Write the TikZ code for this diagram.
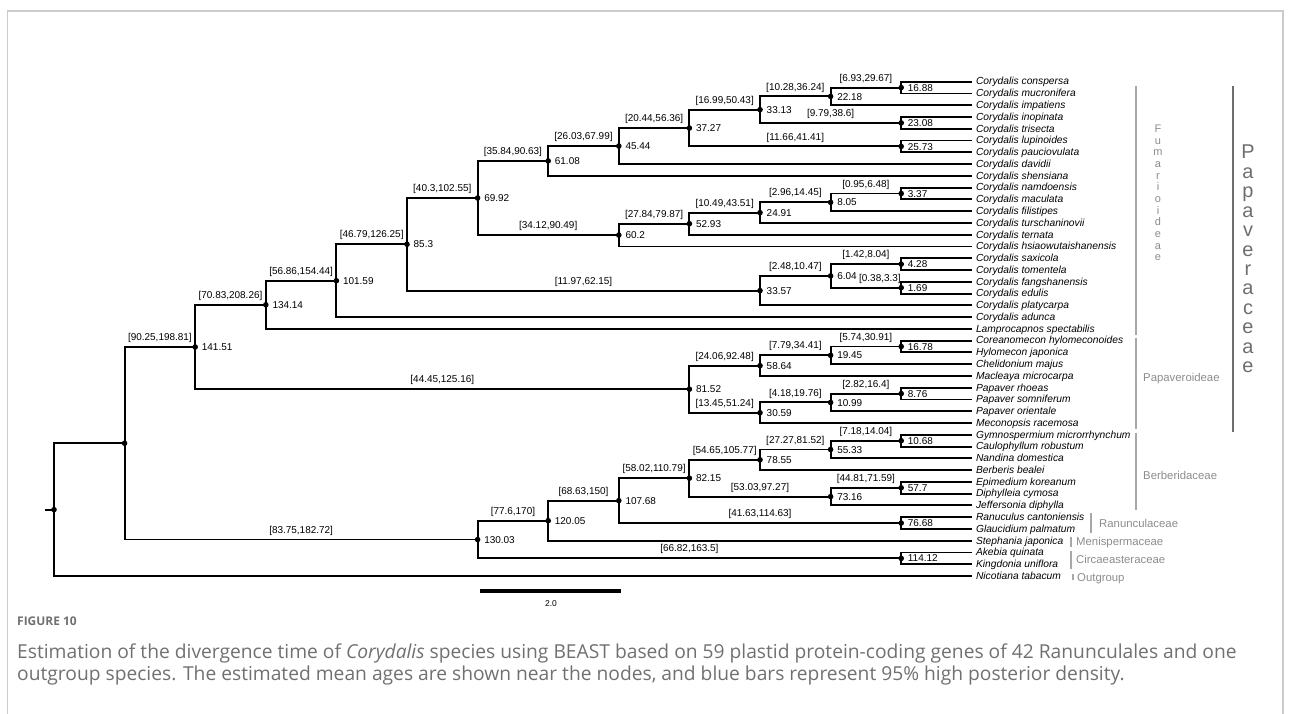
\documentclass[tikz,border=0pt]{standalone}
\usepackage{fontspec}
\setmainfont{Liberation Sans}
\newfontfamily\capfont{Open Sans}
\usetikzlibrary{calc}
\definecolor{framegray}{HTML}{CCCCCC}
\definecolor{brgray}{HTML}{A8A8A8}
\definecolor{labgray}{HTML}{8C8C8C}
\definecolor{bargray}{HTML}{6E6E6E}
\definecolor{capgray}{HTML}{707070}
\newcommand\brch[3]{\draw[br] (#1) |- (#2); \node[hpd] at ($(#1 |- #2)!.5!(#2)$) {#3};}
\newcommand\tbr[2]{\draw[br] (#1) |- (#2.west);}
\begin{document}
\begin{tikzpicture}[x=1bp,y=-1bp,
  br/.style={line width=1.9bp,line join=miter},
  hpd/.style={anchor=base,inner sep=0,yshift=6.4bp,font=\fontsize{10}{12}\selectfont},
  age/.style={anchor=base west,inner sep=0,xshift=6.5bp,yshift=-3.6bp,font=\fontsize{10}{12}\selectfont},
  tip/.style={anchor=west,inner xsep=4bp,inner ysep=0,text height=6.6bp,text depth=0bp,font=\fontsize{10.3}{12}\selectfont\itshape},
  grp/.style={text=labgray,font=\fontsize{11.4}{13}\selectfont,anchor=west,inner sep=0,text height=8bp,text depth=0bp},
  brk/.style={brgray,line width=1.3bp},
]
\useasboundingbox (0,0) rectangle (1293,714);
% frame
\draw[framegray,line width=1.3bp] (7.3,714) -- (7.3,11) -- (1283,11) -- (1283,714);

\begin{scope}[shift={(54,81.7)},x=70.6bp,y=-11.77bp]
% tips
\foreach \n [count=\i from 0] in {Corydalis conspersa,Corydalis mucronifera,Corydalis impatiens,Corydalis inopinata,Corydalis trisecta,Corydalis lupinoides,Corydalis pauciovulata,Corydalis davidii,Corydalis shensiana,Corydalis namdoensis,Corydalis maculata,Corydalis filistipes,Corydalis turschaninovii,Corydalis ternata,Corydalis hsiaowutaishanensis,Corydalis saxicola,Corydalis tomentela,Corydalis fangshanensis,Corydalis edulis,Corydalis platycarpa,Corydalis adunca,Lamprocapnos spectabilis,Coreanomecon hylomeconoides,Hylomecon japonica,Chelidonium majus,Macleaya microcarpa,Papaver rhoeas,Papaver somniferum,Papaver orientale,Meconopsis racemosa,Gymnospermium microrrhynchum,Caulophyllum robustum,Nandina domestica,Berberis bealei,Epimedium koreanum,Diphylleia cymosa,Jeffersonia diphylla,Ranuculus cantoniensis,Glaucidium palmatum,Stephania japonica,Akebia quinata,Kingdonia uniflora,Nicotiana tabacum}
  \node[tip] (t\i) at (13,\i) {\n};
% internal nodes
\coordinate (root) at (0,36.3595);
\coordinate (rstub) at (-0.1275,36.3595);
\coordinate (nA) at (1,30.719);
\coordinate (n14151) at (2,22.5396);
\coordinate (n13414) at (3,18.9541);
\coordinate (n10159) at (4,16.9082);
\coordinate (n853) at (5,13.8164);
\coordinate (n6992) at (6,9.8828);
\coordinate (n6108) at (7,6.7344);
\coordinate (n4544) at (8,5.4688);
\coordinate (n3727) at (9,3.9375);
\coordinate (n3313) at (10,2.375);
\coordinate (n2218) at (11,1.25);
\coordinate (n1688) at (12,0.5);
\coordinate (n2308) at (12,3.5);
\coordinate (n2573) at (12,5.5);
\coordinate (n602) at (8,13.0313);
\coordinate (n5293) at (9,12.0625);
\coordinate (n2491) at (10,11.125);
\coordinate (n805) at (11,10.25);
\coordinate (n337) at (12,9.5);
\coordinate (n3357) at (10,17.75);
\coordinate (n604) at (11,16.5);
\coordinate (n428) at (12,15.5);
\coordinate (n169) at (12,17.5);
\coordinate (n8152) at (9,26.125);
\coordinate (n5864) at (10,24.125);
\coordinate (n1945) at (11,23.25);
\coordinate (n1678) at (12,22.5);
\coordinate (n3059) at (10,28.125);
\coordinate (n1099) at (11,27.25);
\coordinate (n876) at (12,26.5);
\coordinate (n13003) at (6,38.8984);
\coordinate (n12005) at (7,37.2969);
\coordinate (n10768) at (8,35.5938);
\coordinate (n8215) at (9,33.6875);
\coordinate (n7855) at (10,32.125);
\coordinate (n5533) at (11,31.25);
\coordinate (n1068) at (12,30.5);
\coordinate (n7316) at (11,35.25);
\coordinate (n577) at (12,34.5);
\coordinate (n7668) at (12,37.5);
\coordinate (n11412) at (12,40.5);

% branches
\draw[br] (rstub) -- (root);
\draw[br] (root) |- (nA);
\tbr{root}{t42}
\brch{nA}{n14151}{[90.25,198.81]}
\brch{nA}{n13003}{[83.75,182.72]}
\brch{n14151}{n13414}{[70.83,208.26]}
\brch{n14151}{n8152}{[44.45,125.16]}
\brch{n13414}{n10159}{[56.86,154.44]}
\tbr{n13414}{t21}
\brch{n10159}{n853}{[46.79,126.25]}
\tbr{n10159}{t20}
\brch{n853}{n6992}{[40.3,102.55]}
\brch{n853}{n3357}{[11.97,62.15]}
\brch{n6992}{n6108}{[35.84,90.63]}
\brch{n6992}{n602}{[34.12,90.49]}
\brch{n6108}{n4544}{[26.03,67.99]}
\tbr{n6108}{t8}
\brch{n4544}{n3727}{[20.44,56.36]}
\tbr{n4544}{t7}
\brch{n3727}{n3313}{[16.99,50.43]}
\brch{n3727}{n2573}{[11.66,41.41]}
\brch{n3313}{n2218}{[10.28,36.24]}
\brch{n3313}{n2308}{[9.79,38.6]}
\brch{n2218}{n1688}{[6.93,29.67]}
\tbr{n2218}{t2}
\tbr{n1688}{t0}\tbr{n1688}{t1}
\tbr{n2308}{t3}\tbr{n2308}{t4}
\tbr{n2573}{t5}\tbr{n2573}{t6}
\brch{n602}{n5293}{[27.84,79.87]}
\tbr{n602}{t14}
\brch{n5293}{n2491}{[10.49,43.51]}
\tbr{n5293}{t13}
\brch{n2491}{n805}{[2.96,14.45]}
\tbr{n2491}{t12}
\brch{n805}{n337}{[0.95,6.48]}
\tbr{n805}{t11}
\tbr{n337}{t9}\tbr{n337}{t10}
\brch{n3357}{n604}{[2.48,10.47]}
\tbr{n3357}{t19}
\brch{n604}{n428}{[1.42,8.04]}
\draw[br] (n604) |- (n169);
\node[hpd,xshift=14bp] at ($(n604 |- n169)!.5!(n169)$) {[0.38,3.3]};
\tbr{n428}{t15}\tbr{n428}{t16}
\tbr{n169}{t17}\tbr{n169}{t18}
\brch{n8152}{n5864}{[24.06,92.48]}
\brch{n8152}{n3059}{[13.45,51.24]}
\brch{n5864}{n1945}{[7.79,34.41]}
\tbr{n5864}{t25}
\brch{n1945}{n1678}{[5.74,30.91]}
\tbr{n1945}{t24}
\tbr{n1678}{t22}\tbr{n1678}{t23}
\brch{n3059}{n1099}{[4.18,19.76]}
\tbr{n3059}{t29}
\brch{n1099}{n876}{[2.82,16.4]}
\tbr{n1099}{t28}
\tbr{n876}{t26}\tbr{n876}{t27}
\brch{n13003}{n12005}{[77.6,170]}
\brch{n13003}{n11412}{[66.82,163.5]}
\brch{n12005}{n10768}{[68.63,150]}
\tbr{n12005}{t39}
\brch{n10768}{n8215}{[58.02,110.79]}
\brch{n10768}{n7668}{[41.63,114.63]}
\brch{n8215}{n7855}{[54.65,105.77]}
\brch{n8215}{n7316}{[53.03,97.27]}
\brch{n7855}{n5533}{[27.27,81.52]}
\tbr{n7855}{t33}
\brch{n5533}{n1068}{[7.18,14.04]}
\tbr{n5533}{t32}
\tbr{n1068}{t30}\tbr{n1068}{t31}
\brch{n7316}{n577}{[44.81,71.59]}
\tbr{n7316}{t36}
\tbr{n577}{t34}\tbr{n577}{t35}
\tbr{n7668}{t37}\tbr{n7668}{t38}
\tbr{n11412}{t40}\tbr{n11412}{t41}

% dots
\foreach \n in {root,nA,n14151,n13414,n10159,n853,n6992,n6108,n4544,n3727,n3313,n2218,n1688,n2308,n2573,n602,n5293,n2491,n805,n337,n3357,n604,n428,n169,n8152,n5864,n1945,n1678,n3059,n1099,n876,n13003,n12005,n10768,n8215,n7855,n5533,n1068,n7316,n577,n7668,n11412}
  \fill (\n) circle (2.8bp);
% ages
\foreach \n/\a in {n14151/141.51,n13414/134.14,n10159/101.59,n853/85.3,n6992/69.92,n6108/61.08,n4544/45.44,n3727/37.27,n3313/33.13,n2218/22.18,n1688/16.88,n2308/23.08,n2573/25.73,n602/60.2,n5293/52.93,n2491/24.91,n805/8.05,n337/3.37,n3357/33.57,n604/6.04,n428/4.28,n169/1.69,n8152/81.52,n5864/58.64,n1945/19.45,n1678/16.78,n3059/30.59,n1099/10.99,n876/8.76,n13003/130.03,n12005/120.05,n10768/107.68,n8215/82.15,n7855/78.55,n5533/55.33,n1068/10.68,n7316/73.16,n577/57.7,n7668/76.68,n11412/114.12}
  \node[age] at (\n) {\a};
\end{scope}

% group brackets
\coordinate (bF1) at (1136,86);   \coordinate (bF2) at (1136,335);
\coordinate (bP1) at (1136,337.5);\coordinate (bP2) at (1136,429);
\coordinate (bB1) at (1136,433);  \coordinate (bB2) at (1136,510);
\coordinate (bR1) at (1091,513);  \coordinate (bR2) at (1091,533);
\coordinate (bM1) at (1071,537);  \coordinate (bM2) at (1071,547);
\coordinate (bC1) at (1071,551);  \coordinate (bC2) at (1071,569);
\coordinate (bO1) at (1073,574);  \coordinate (bO2) at (1073,580);
\coordinate (bX1) at (1232.7,86); \coordinate (bX2) at (1232.7,432);
\draw[brk] (bF1) -- (bF2);
\draw[brk] (bP1) -- (bP2);
\draw[brk] (bB1) -- (bB2);
\draw[brk] (bR1) -- (bR2);
\draw[brk] (bM1) -- (bM2);
\draw[brk] (bC1) -- (bC2);
\draw[brk] (bO1) -- (bO2);
\draw[bargray,line width=1.8bp] (bX1) -- (bX2);

\node[text=labgray,align=center,inner sep=0,font=\fontsize{11}{11.7}\selectfont] (gF) at (1158,193) {F\\u\\m\\a\\r\\i\\o\\i\\d\\e\\a\\e};
\node[text=bargray,align=center,inner sep=0,font=\fontsize{20}{19.5}\selectfont] (gX) at (1248,259) {P\\a\\p\\a\\v\\e\\r\\a\\c\\e\\a\\e};
\node[grp] (gP) at (1143,377.7) {Papaveroideae};
\node[grp] (gB) at (1143,475) {Berberidaceae};
\node[grp] (gR) at (1099,523) {Ranunculaceae};
\node[grp] (gM) at (1076,541.7) {Menispermaceae};
\node[grp] (gC) at (1076,559) {Circaeasteraceae};
\node[grp] (gO) at (1077,577.5) {Outgroup};

% scale bar
\coordinate (sb1) at (480,591);
\coordinate (sb2) at (621,591);
\draw[line width=4bp] (sb1) -- (sb2);
\node[font=\fontsize{8.5}{10}\selectfont,inner sep=0] (sbl) at (551,604) {2.0};

% caption
\node[anchor=west,inner sep=0,text=capgray,font=\capfont\bfseries\fontsize{12}{14}\selectfont] (fig) at (17,621) {FIGURE 10};
\node[anchor=west,inner sep=0,text=capgray,font=\capfont\fontsize{19.3}{23}\selectfont] (cap1) at (17,653) {Estimation of the divergence time of \textit{Corydalis} species using BEAST based on 59 plastid protein-coding genes of 42 Ranunculales and one};
\node[anchor=west,inner sep=0,text=capgray,font=\capfont\fontsize{19.3}{23}\selectfont] (cap2) at (17,676) {outgroup species. The estimated mean ages are shown near the nodes, and blue bars represent 95\% high posterior density.};
\end{tikzpicture}
\end{document}
